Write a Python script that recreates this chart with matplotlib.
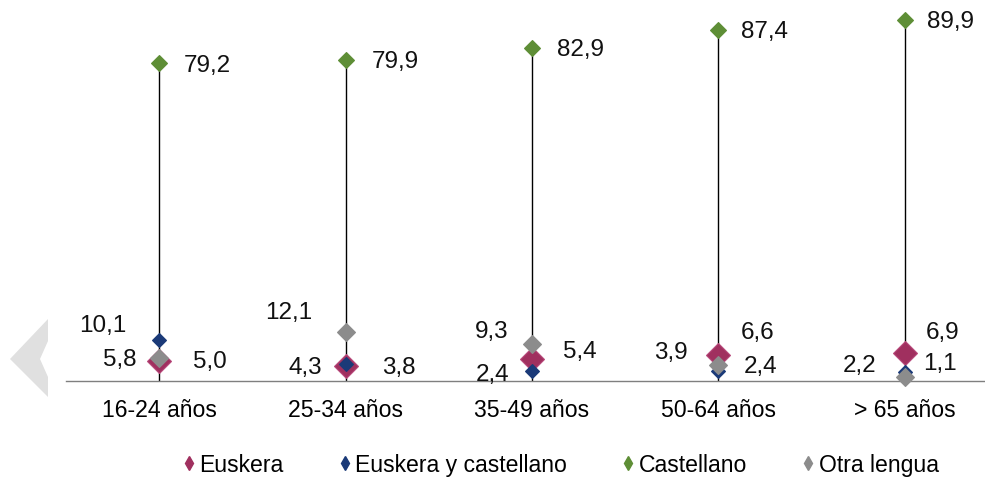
import matplotlib.pyplot as plt
from matplotlib.lines import Line2D
from matplotlib.patches import Polygon

plt.rcParams['font.family'] = ['Liberation Sans', 'DejaVu Sans']

# datos
categorias = ['16-24 años', '25-34 años', '35-49 años', '50-64 años', '> 65 años']
euskera = [5.0, 3.8, 5.4, 6.6, 6.9]
euskera_castellano = [10.1, 4.3, 2.4, 2.4, 2.2]
castellano = [79.2, 79.9, 82.9, 87.4, 89.9]
otra_lengua = [5.8, 12.1, 9.3, 3.9, 1.1]

series = [
    ('Euskera', euskera, '#A0305F', '#B8487A', 12.0),
    ('Euskera y castellano', euskera_castellano, '#1B3A78', '#1B3A78', 6.8),
    ('Castellano', castellano, '#5E8E36', '#5E8E36', 8.6),
    ('Otra lengua', otra_lengua, '#8C8C8C', '#8C8C8C', 9.6),
]

# desplazamiento de etiquetas (px) para cada serie y categoria
offsets = {
    'Euskera': [(51, 0), (53, 1), (48, -8), (39, -23), (38, -21)],
    'Euskera y castellano': [(-56, -15), (-40, 3), (-39, 3), (42, -5), (-45, -7)],
    'Castellano': [(48, 2), (50, 1), (48, 1), (46, 1), (46, 1)],
    'Otra lengua': [(-39, 1), (-57, -20), (-40, -13), (-48, -13), (35, -14)],
}

fig = plt.figure(figsize=(9.85, 4.81), dpi=100)
ax = fig.add_axes([66 / 985, 99 / 481, 932 / 985, 361.35 / 481])

x = list(range(len(categorias)))

# lineas maximo-minimo
for i in x:
    top = max(euskera[i], euskera_castellano[i], castellano[i], otra_lengua[i])
    ax.vlines(i, 0, top, color='black', lw=1.0, zorder=1)

for z, (nombre, vals, col, edge, ms) in enumerate(series):
    ax.plot(x, vals, ls='none', marker='D', ms=ms, color=col,
            markeredgecolor=edge, markeredgewidth=0.8, zorder=3 + z, clip_on=False)
    for i, v in enumerate(vals):
        dx, dy = offsets[nombre][i]
        ax.annotate(f'{v:.1f}'.replace('.', ','), (i, v),
                    xytext=(dx * 0.72, -dy * 0.72), textcoords='offset points',
                    ha='center', va='center', fontsize=17.5, color='#111111')

ax.set_xlim(-0.5, 4.5)
ax.set_ylim(0, 90)
ax.set_xticks(x)
ax.set_xticklabels(categorias, fontsize=16.6)
ax.tick_params(axis='x', length=0, pad=12)
ax.set_yticks([])
for s in ['top', 'right', 'left']:
    ax.spines[s].set_visible(False)
ax.spines['bottom'].set_color('#7F7F7F')
ax.spines['bottom'].set_linewidth(1.0)

# leyenda
handles = [Line2D([], [], ls='none', marker='d', ms=7.5, color=s[2]) for s in series]
fig.legend(handles, [s[0] for s in series], loc='center', ncol=4,
           bbox_to_anchor=(561 / 985, 1 - 466 / 481), frameon=False,
           fontsize=16.6, handlelength=0.5, handletextpad=0.2, columnspacing=2.4)

# flecha gris de la izquierda
flecha = Polygon([(48, 320), (10, 360), (48, 398), (48, 378), (40, 360), (48, 342)],
                 closed=True, facecolor='#E0E0E0', edgecolor='none')
flecha.set_transform(fig.dpi_scale_trans)
pts = [(px / 100, (481 - py) / 100) for px, py in flecha.get_xy()]
flecha.set_xy(pts)
fig.patches.append(flecha)

fig.savefig('out.png', dpi=100)
